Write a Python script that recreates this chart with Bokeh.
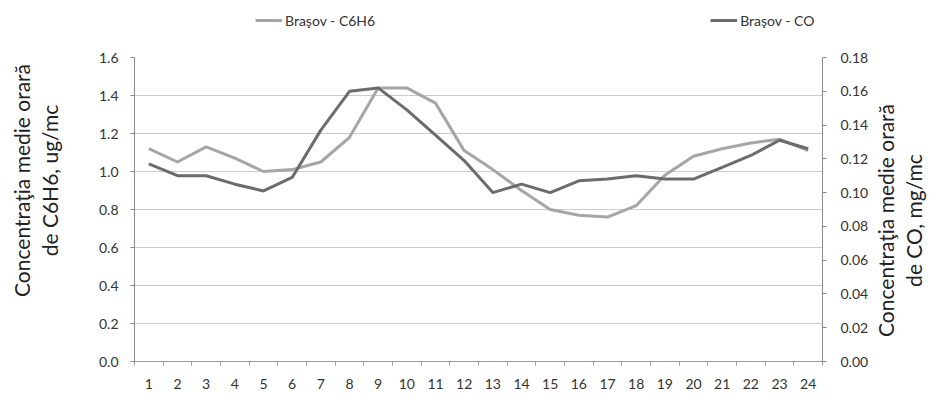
import math
from bokeh.plotting import figure
from bokeh.layouts import column, row
from bokeh.models import (Range1d, LinearAxis, FixedTicker, Legend, LegendItem,
                          NumeralTickFormatter, ColumnDataSource)
from bokeh.core.properties import value
from bokeh.embed import file_html
from bokeh.resources import INLINE

hours = list(range(1, 25))
c6h6 = [1.12, 1.05, 1.13, 1.07, 1.00, 1.01, 1.05, 1.18, 1.44, 1.44, 1.36, 1.11,
        1.01, 0.90, 0.80, 0.77, 0.76, 0.82, 0.98, 1.08, 1.12, 1.15, 1.17, 1.11]
co = [0.117, 0.110, 0.110, 0.105, 0.101, 0.109, 0.137, 0.160, 0.162, 0.149, 0.134, 0.119,
      0.100, 0.105, 0.100, 0.107, 0.108, 0.110, 0.108, 0.108, 0.115, 0.122, 0.131, 0.126]
left_ticks = [0.0, 0.2, 0.4, 0.6, 0.8, 1.0, 1.2, 1.4, 1.6]
right_ticks = [0.00, 0.02, 0.04, 0.06, 0.08, 0.10, 0.12, 0.14, 0.16, 0.18]
name_c6h6 = "Braşov - C6H6"
name_co = "Braşov - CO"
left_title = "Concentraţia medie orară\nde C6H6, ug/mc"
right_title = "Concentraţia medie orară\nde CO, mg/mc"

FONT = "Lato"
C_LIGHT = "#a6a6a6"
C_DARK = "#6c6c6c"
LEG_H = 45
LEFT_W = 80
RIGHT_B = 48
MAIN_W = (134 - LEFT_W) + 688 + RIGHT_B
TITLE_W = 70
TOTAL_H = 394

src = ColumnDataSource(dict(h=hours, b=c6h6, c=co))

p = figure(frame_width=688, frame_height=304, output_backend="svg", toolbar_location=None,
           x_range=Range1d(0.5, 24.5), y_range=Range1d(left_ticks[0], left_ticks[-1]),
           min_border_left=134 - LEFT_W, min_border_top=57 - LEG_H, min_border_bottom=22,
           min_border_right=RIGHT_B,
           outline_line_color=None, background_fill_color="white")
p.extra_y_ranges = {"co": Range1d(right_ticks[0], right_ticks[-1])}

# x axis
p.xaxis.ticker = FixedTicker(ticks=hours, minor_ticks=[h + 0.5 for h in [0] + hours])
p.xaxis.major_tick_out = 0
p.xaxis.major_tick_in = 0
p.xaxis.minor_tick_out = 4
p.xaxis.minor_tick_in = 0
p.xaxis.minor_tick_line_color = "#9a9a9a"
p.xaxis.axis_line_color = "#9a9a9a"
p.xaxis.major_label_text_font = FONT
p.xaxis.major_label_text_font_size = "14px"
p.xaxis.major_label_text_color = "#333333"
p.xaxis.major_label_standoff = 13

# left axis (its title is drawn in the narrow strip to the left)
p.yaxis.ticker = FixedTicker(ticks=left_ticks)
p.yaxis.formatter = NumeralTickFormatter(format="0.0")
p.yaxis.major_tick_out = 4
p.yaxis.major_tick_in = 0
p.yaxis.minor_tick_line_color = None
p.yaxis.axis_line_color = "#8a8a8a"
p.yaxis.major_tick_line_color = "#8a8a8a"
p.yaxis.major_label_text_font = FONT
p.yaxis.major_label_text_font_size = "14px"
p.yaxis.major_label_text_color = "#333333"
p.yaxis.major_label_standoff = 12

# right axis (its title is drawn in the narrow strip to the right)
ra = LinearAxis(y_range_name="co", ticker=FixedTicker(ticks=right_ticks),
                formatter=NumeralTickFormatter(format="0.00"))
ra.major_tick_out = 4
ra.major_tick_in = 0
ra.minor_tick_line_color = None
ra.axis_line_color = "#8a8a8a"
ra.major_tick_line_color = "#8a8a8a"
ra.major_label_text_font = FONT
ra.major_label_text_font_size = "14px"
ra.major_label_text_color = "#333333"
ra.major_label_standoff = 14
p.add_layout(ra, "right")

p.xgrid.grid_line_color = None
p.ygrid.grid_line_color = "#cccccc"
p.ygrid.grid_line_width = 1

p.line("h", "b", source=src, line_color=C_LIGHT, line_width=3)
p.line("h", "c", source=src, line_color=C_DARK, line_width=3, y_range_name="co")

# legend strip above the chart (its own renderers lie outside its empty ranges)
pl = figure(width=MAIN_W, height=LEG_H, output_backend="svg", toolbar_location=None,
            x_range=Range1d(-2, -1), y_range=Range1d(-2, -1), min_border=0,
            outline_line_color=None)
pl.axis.visible = False
pl.grid.grid_line_color = None
d1 = pl.line("h", "b", source=src, line_color=C_LIGHT, line_width=3)
d2 = pl.line("h", "c", source=src, line_color=C_DARK, line_width=3)
lg = Legend(items=[LegendItem(label=name_c6h6, renderers=[d1]),
                   LegendItem(label=name_co, renderers=[d2])],
            location=(121, 15), orientation="horizontal", spacing=335,
            border_line_color=None, background_fill_alpha=0, padding=0, margin=0,
            glyph_width=27, glyph_height=20, label_standoff=3,
            label_text_font=FONT, label_text_font_size="14px", label_text_color="#333333")
pl.add_layout(lg)


def title_strip(width, text, x, y_from_top):
    s = figure(width=width, height=TOTAL_H, output_backend="svg", toolbar_location=None,
               x_range=Range1d(0, width), y_range=Range1d(0, TOTAL_H), min_border=0,
               outline_line_color=None)
    s.axis.visible = False
    s.grid.grid_line_color = None
    s.text(x=[x], y=[TOTAL_H - y_from_top], text=[text], angle=math.pi / 2,
           text_align="center", text_baseline="middle", text_font=value(FONT),
           text_font_size="21px", text_color="#222222", text_line_height=1.1)
    return s


pleft = title_strip(LEFT_W, left_title, 35, 180)
pr = title_strip(TITLE_W, right_title, 28, 220)

layout = row(pleft, column(pl, p, spacing=0), pr, spacing=0)
open("out.html", "w").write(file_html(layout, INLINE))
